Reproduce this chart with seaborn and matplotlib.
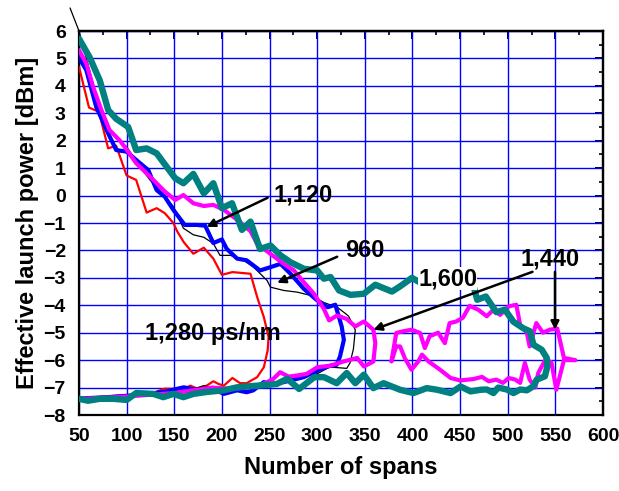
import matplotlib
matplotlib.use("Agg")
import matplotlib.pyplot as plt
import seaborn as sns
import pandas as pd
from matplotlib.ticker import MultipleLocator

sns.set_style("white")
plt.rcParams['font.family'] = ['Liberation Sans', 'DejaVu Sans']
plt.rcParams['font.weight'] = 'bold'
for k in ['text.color', 'axes.labelcolor', 'xtick.color', 'ytick.color', 'axes.edgecolor']:
    plt.rcParams[k] = 'black'

# ---- data (path order: upper branch out, lower branch back) ----
red_x = [50, 60.5, 71, 80.6, 89, 100, 110, 121, 131.5, 140, 149, 153, 160, 170, 181, 191, 200, 211,
         230, 237, 244, 249, 248, 244, 237, 226, 219, 211, 202, 196.5, 191, 184, 174, 167, 160,
         153, 140, 124.5, 107, 89, 70, 50]
red_y = [4.69, 3.21, 3.05, 1.72, 1.82, 0.73, 0.57, -0.62, -0.46, -0.64, -1.0, -1.3, -1.7, -2.12, -1.9,
         -2.3, -2.89, -2.79, -2.85, -3.7, -4.43, -5.16, -5.65, -6.26, -6.62, -6.84, -6.84, -6.65,
         -6.93, -6.87, -6.77, -6.93, -7.04, -6.93, -7.04, -7.05, -7.04, -7.23, -7.26, -7.3, -7.35, -7.4]

blk_x = [40.6, 50, 60, 70, 77, 89, 100, 114, 124.5, 137, 149, 159.6, 170, 181, 191, 198, 209, 223, 233,
         247.5, 251, 265, 279, 293, 307, 321, 330, 333, 340, 338, 334.5, 331, 313, 300, 286, 265,
         244, 220, 200, 188, 181, 170, 150, 120, 90, 50]
blk_y = [6.84, 6.0, 4.7, 3.4, 2.63, 2.08, 1.78, 1.05, 0.57, 0.1, -0.4, -1.19, -1.43, -1.52, -1.75, -2.18,
         -2.18, -2.37, -2.6, -3.1, -3.34, -3.46, -3.52, -3.64, -3.9, -4.07, -4.31, -4.4, -4.9, -5.6,
         -6.1, -6.3, -6.25, -6.5, -6.56, -6.74, -6.98, -7.0, -7.0, -6.99, -6.93, -7.05, -7.15, -7.25,
         -7.3, -7.38]

blu_x = [50, 57.7, 68, 80.6, 89, 100, 110, 122.7, 131.5, 140, 149, 161, 173.7, 182.5, 191, 200, 205,
         216, 226, 240, 251, 261.5, 272, 286, 300, 311, 319, 325.7, 328, 324, 320.5, 314, 300, 286,
         265, 251, 244, 233, 226, 216, 202, 191, 175, 160, 140, 120, 100, 80, 50]
blu_y = [5.03, 4.57, 3.24, 2.27, 1.66, 1.6, 1.3, 0.93, 0.2, -0.04, -0.52, -1.07, -1.07, -1.1, -1.73,
         -1.6, -1.94, -2.3, -2.36, -2.73, -2.61, -2.49, -2.85, -3.4, -3.82, -4.07, -3.98, -4.77,
         -5.26, -5.86, -6.17, -6.2, -6.38, -6.62, -6.8, -6.87, -6.8, -7.1, -7.17, -7.1, -7.23, -7.05,
         -7.1, -6.99, -7.15, -7.25, -7.3, -7.35, -7.4]

mag_x = [50, 57.7, 64.8, 73.5, 82, 93, 101.6, 110, 121, 128, 140, 151, 159.6, 170, 181, 191, 202, 216,
         230, 237, 250, 265, 275.6, 286, 296.6, 307, 312.5, 321, 331, 340, 349, 359, 361, 359, 349,
         342, 327.5, 314, 300, 289, 279, 270, 261, 254, 247.5, 237, 226, 210, 190, 170, 150, 130,
         110, 90, 70, 50]
mag_y = [5.3, 4.81, 3.96, 3.12, 2.39, 2.0, 1.6, 1.18, 0.81, 0.57, 0.15, -0.16, 0.02, -0.28, -0.38,
         -0.34, -0.52, -0.88, -1.3, -1.76, -2.1, -2.49, -2.73, -3.16, -3.58, -4.13, -4.55, -4.37,
         -4.5, -4.77, -4.59, -4.89, -5.38, -6.05, -6.23, -5.92, -6.05, -6.2, -6.26, -6.5, -6.56,
         -6.6, -6.44, -6.68, -6.8, -6.95, -7.0, -7.05, -7.0, -7.1, -7.2, -7.25, -7.3, -7.35, -7.38,
         -7.42]

mag2_x = [378, 383, 390, 399, 408, 413, 418, 427, 434, 439, 446, 453, 460, 469, 478, 485, 492, 501,
          509, 513, 520, 523, 530, 537, 544, 552, 559, 571, 559, 551, 546, 540, 532, 529, 523, 518,
          513, 508, 501, 495, 488, 480, 473, 464, 450, 440, 429, 417, 410, 406, 399, 392, 387, 383,
          378]
mag2_y = [-6.04, -5.01, -4.95, -4.89, -5.01, -5.56, -5.13, -5.0, -5.38, -4.65, -4.59, -4.45, -4.02,
          -4.16, -4.4, -4.16, -4.35, -4.04, -3.98, -4.71, -5.0, -5.5, -4.65, -5.0, -4.89, -4.85,
          -5.92, -6.0, -6.0, -7.08, -6.1, -5.95, -6.47, -7.0, -6.71, -6.1, -6.83, -6.71, -6.65,
          -6.83, -6.71, -6.77, -6.61, -6.69, -6.74, -6.65, -6.35, -6.05, -5.8, -6.05, -6.35, -5.93,
          -5.5, -5.5, -6.04]

teal_x = [50, 61, 71.8, 80.6, 89, 101.6, 110, 121, 131.5, 142, 151, 159.6, 170, 181, 191, 200, 210.6,
          221, 230, 240, 251, 261.5, 272, 286, 300, 307, 314, 323, 335, 349, 361, 378.5, 387, 399.5,
          412, 422.5, 436, 461, 468, 477, 488, 497, 506, 516, 523.4, 527, 535.7, 541, 541.6, 539,
          530.4, 527, 520, 513, 506, 499, 490, 485, 478, 471.6, 461, 450.5, 440, 426, 415, 401, 387,
          369.7, 359, 349, 340, 331, 320.5, 307, 297, 281, 268.5, 257.5, 237, 216, 202, 184, 170,
          159.6, 149, 138.5, 128, 110, 100, 86, 71.8, 59.5, 50]
teal_y = [5.72, 5.05, 4.2, 3.12, 2.8, 2.5, 1.66, 1.72, 1.54, 1.05, 0.63, 0.45, 0.79, 0.08, 0.45, -0.46,
          -0.28, -1.25, -0.95, -1.95, -1.82, -2.18, -2.43, -2.67, -2.73, -3.03, -2.97, -3.46, -3.62,
          -3.58, -3.25, -3.5, -3.31, -3.0, -3.25, -2.95, -2.83, -2.9, -3.8, -3.68, -4.25, -4.16,
          -4.6, -4.83, -4.95, -5.44, -5.62, -5.92, -6.23, -6.59, -6.71, -6.95, -7.1, -7.07, -7.2,
          -7.07, -7.0, -7.2, -7.07, -7.08, -7.14, -6.96, -7.2, -7.08, -7.02, -7.2, -7.08, -6.84,
          -7.02, -6.53, -6.84, -6.47, -6.84, -6.62, -6.62, -7.05, -6.68, -6.87, -6.93, -6.99, -7.1,
          -7.16, -7.23, -7.35, -7.23, -7.35, -7.23, -7.2, -7.45, -7.41, -7.41, -7.48, -7.41]

labels = ["1,280 ps/nm", "960", "1,120", "1,600", "1,440"]
label_xy = [(191, -5.02), (350, -2.0), (285, 0.03), (437, -3.03), (544, -2.3)]
arrow_tail = [None, (321, -2.23), (248, -0.08), (526, -2.78), (549.6, -2.78)]
arrow_tip = [None, (258, -3.18), (184, -1.14), (359, -4.89), (549.6, -4.89)]

x_ticks = list(range(50, 601, 50))
y_ticks = list(range(-8, 7, 1))

# ---- figure ----
fig = plt.figure(figsize=(6.19, 4.91), dpi=100)
ax = fig.add_axes([79 / 619, 1 - 415 / 491, (603 - 79) / 619, (415 - 31) / 491])


def draw(xs, ys, color, lw, z, clip=True):
    df = pd.DataFrame({"x": xs, "y": ys})
    sns.lineplot(data=df, x="x", y="y", sort=False, estimator=None, color=color,
                 linewidth=lw, ax=ax, zorder=z)
    ax.lines[-1].set_clip_on(clip)
    ax.lines[-1].set_solid_joinstyle("round")


draw(red_x, red_y, "#FF0000", 1.6, 3)
draw(blk_x, blk_y, "#000000", 0.9, 4, clip=False)
draw(blu_x, blu_y, "#0000FF", 3.0, 5)
draw(mag_x, mag_y, "#FF00FF", 3.0, 6)
draw(mag2_x, mag2_y, "#FF00FF", 3.0, 6)
draw(teal_x, teal_y, "#008080", 4.6, 7)

ax.set_xlim(50, 600)
ax.set_ylim(-8, 6)
ax.set_xticks(x_ticks)
ax.set_yticks(y_ticks)
ax.xaxis.set_minor_locator(MultipleLocator(25))
ax.yaxis.set_minor_locator(MultipleLocator(0.5))
ax.grid(True, which="major", color="#0000FF", linewidth=1.0)
ax.set_axisbelow(True)

for s in ax.spines.values():
    s.set_visible(True)
    s.set_color("black")
    s.set_linewidth(1.6)

ax.tick_params(which="major", direction="out", length=6, width=1.4, labelsize=14,
               color="black", labelcolor="black")
ax.tick_params(which="minor", direction="out", length=3, width=1.2, color="black")
for lab in ax.get_xticklabels() + ax.get_yticklabels():
    lab.set_fontweight("bold")

top = ax.secondary_xaxis("top")
top.set_xticks(x_ticks)
top.xaxis.set_minor_locator(MultipleLocator(25))
top.tick_params(which="major", direction="in", length=6, width=1.4, labeltop=False, color="black")
top.tick_params(which="minor", direction="in", length=3, width=1.2, color="black")
top.spines["top"].set_linewidth(1.6)
top.spines["top"].set_color("black")
right = ax.secondary_yaxis("right")
right.set_yticks(y_ticks)
right.yaxis.set_minor_locator(MultipleLocator(0.5))
right.tick_params(which="major", direction="in", length=6, width=1.4, labelright=False, color="black")
right.tick_params(which="minor", direction="in", length=3, width=1.2, color="black")
right.spines["right"].set_linewidth(1.6)
right.spines["right"].set_color("black")

ax.set_xlabel("Number of spans", fontsize=17, fontweight="bold", labelpad=8, color="black")
ax.set_ylabel("Effective launch power [dBm]", fontsize=17, fontweight="bold", labelpad=3,
              color="black")

for lab, (tx, ty), tail, tip in zip(labels, label_xy, arrow_tail, arrow_tip):
    bbox = dict(facecolor="white", edgecolor="none", pad=0.0) if lab == "1,600" else None
    ax.text(tx, ty, lab, fontsize=17, fontweight="bold", ha="center", va="center",
            zorder=9, bbox=bbox, color="black")
    if tail is not None:
        ax.annotate("", xy=tip, xytext=tail, zorder=10,
                    arrowprops=dict(arrowstyle="-|>", color="black", lw=1.8,
                                    mutation_scale=12, shrinkA=0, shrinkB=0))

fig.savefig("out.png", dpi=100)
